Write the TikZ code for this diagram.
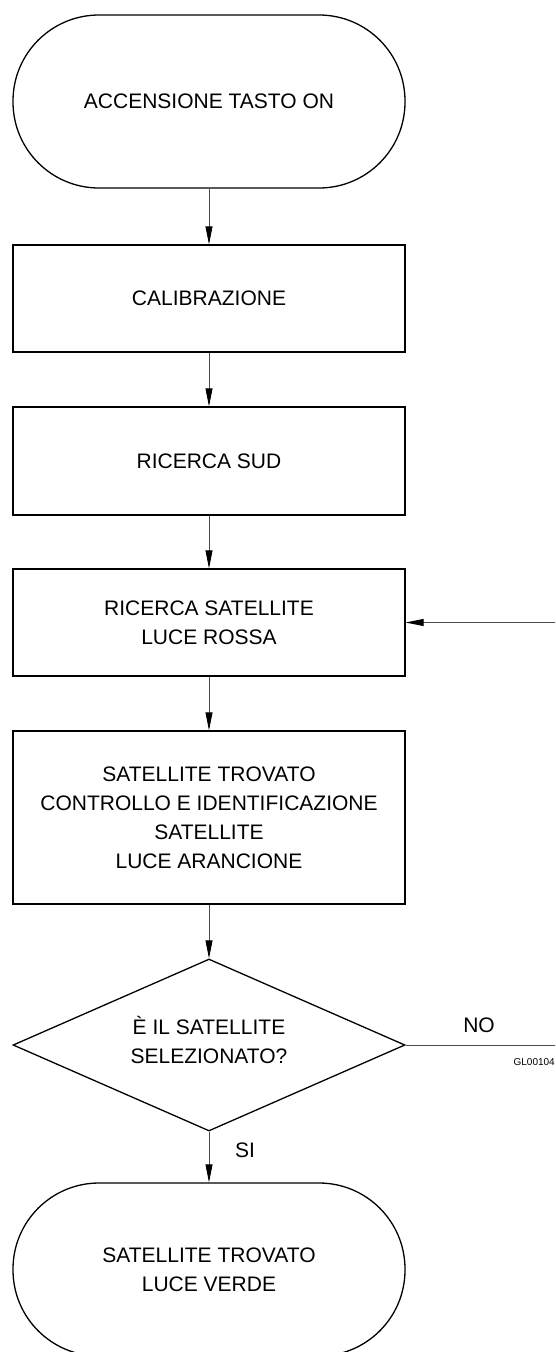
\documentclass[tikz,border=0pt]{standalone}
\usepackage{fontspec}
\setmainfont{Liberation Sans}
\usetikzlibrary{shapes.geometric,arrows.meta}
\begin{document}
\begin{tikzpicture}[x=1pt,y=-1pt,
  every node/.style={font=\fontsize{21}{29}\selectfont, align=center, inner sep=0pt, text=black},
  proc/.style={draw=black, line width=1.3pt, minimum width=392pt},
  term/.style={draw=black, line width=1.3pt, rounded corners=86pt, minimum width=392pt, minimum height=173pt},
  decis/.style={draw=black, line width=1.3pt, shape=diamond, shape aspect=2.28, minimum width=392pt, minimum height=172pt},
  conn/.style={draw=black!70, line width=0.9pt},
  arr/.style={conn, -{Triangle[length=18pt,width=7pt,color=black]}},
  lbl/.style={font=\fontsize{21}{24}\selectfont},
  code/.style={font=\fontsize{10}{12}\selectfont}
]
\useasboundingbox (0,0) rectangle (555,1352);
\clip (0,0) rectangle (555,1352);
\fill[white] (0,0) rectangle (555,1352);

\node[term] (t1) at (209,101.5) {ACCENSIONE TASTO ON};
\node[proc, minimum height=107pt] (b1) at (209,298.5) {CALIBRAZIONE};
\node[proc, minimum height=108pt] (b2) at (209,461) {RICERCA SUD};
\node[proc, minimum height=107pt] (b3) at (209,622.5) {RICERCA SATELLITE\\LUCE ROSSA};
\node[proc, minimum height=173pt] (b4) at (209,817.5) {SATELLITE TROVATO\\CONTROLLO E IDENTIFICAZIONE\\SATELLITE\\LUCE ARANCIONE};
\node[decis] (d) at (209,1045) {};
\node (dtext) at (209,1040) {È IL SATELLITE\\SELEZIONATO?};
\node[term] (t2) at (209,1269.5) {SATELLITE TROVATO\\LUCE VERDE};

\coordinate (fb) at (560,622.5);
\coordinate (noend) at (560,1045);

\draw[arr] (t1) -- (b1);
\draw[arr] (b1) -- (b2);
\draw[arr] (b2) -- (b3);
\draw[arr] (b3) -- (b4);
\draw[arr] (b4) -- (d);
\draw[arr] (d) -- (t2);
\draw[arr] (fb) -- (b3.east);
\draw[conn] (d.east) -- (noend);

\node[lbl] (no) at (479,1025) {NO};
\node[lbl] (si) at (245,1150) {SI};
\node[code, anchor=east] (gl) at (555,1062) {GL00104};
\end{tikzpicture}
\end{document}
